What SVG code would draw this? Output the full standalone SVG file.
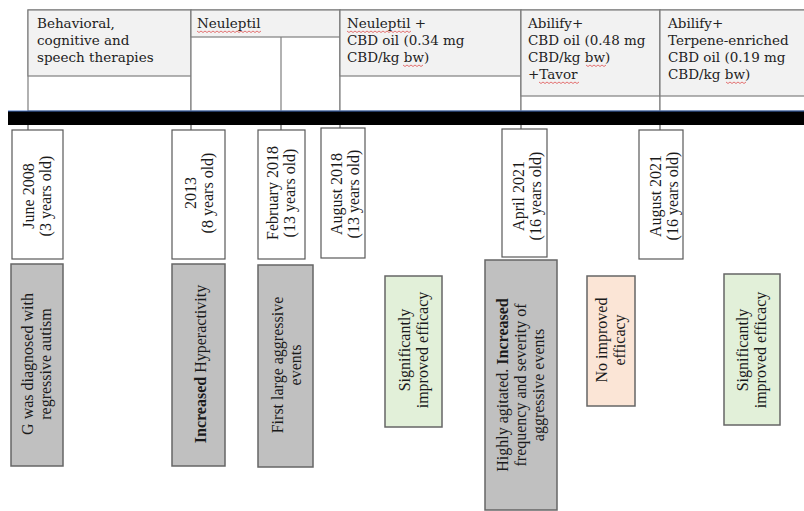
<svg xmlns="http://www.w3.org/2000/svg" width="804" height="511" viewBox="0 0 804 511">
<style>
.hdr{fill:#f2f2f2;stroke:#7f7f7f;stroke-width:1.2}
.cell{fill:#ffffff;stroke:#7f7f7f;stroke-width:1.2}
.ht{font-family:"DejaVu Serif","Liberation Serif",serif;font-size:13.5px;fill:#222222}
.date{fill:#ffffff;stroke:#595959;stroke-width:1.2}
.ev{fill:#c0c0c0;stroke:#666666;stroke-width:1.5}
.green{fill:#e2f0d9;stroke:#666666;stroke-width:1.5}
.peach{fill:#fbe5d6;stroke:#666666;stroke-width:1.5}
.rt{font-family:"Liberation Serif","Times New Roman",serif;font-size:16px;fill:#1a1a1a;text-anchor:middle}
.et{font-family:"Liberation Serif","Times New Roman",serif;font-size:16px;fill:#1a1a1a;text-anchor:middle}
.tick{stroke:#595959;stroke-width:1.2}
.sq{fill:none;stroke:#e05050;stroke-width:0.8}
</style>

<g id="table">
  <g id="col-therapies">
    <rect class="cell" x="28" y="10" width="163" height="101"/>
    <rect class="hdr" x="28" y="10" width="163" height="66"/>
    <text class="ht" x="37" y="28">Behavioral,</text>
    <text class="ht" x="37" y="45">cognitive and</text>
    <text class="ht" x="37" y="62">speech therapies</text>
  </g>
  <g id="col-neuleptil">
    <rect class="cell" x="191" y="10" width="149" height="101"/>
    <rect class="hdr" x="191" y="10" width="149" height="27"/>
    <line class="cell" x1="281" y1="37" x2="281" y2="111"/>
    <text class="ht" x="197" y="28">Neuleptil</text>
  </g>
  <g id="col-neuleptil-cbd">
    <rect class="cell" x="340" y="10" width="181" height="101"/>
    <rect class="hdr" x="340" y="10" width="181" height="66"/>
    <text class="ht" x="347" y="28">Neuleptil +</text>
    <text class="ht" x="347" y="45">CBD oil (0.34 mg</text>
    <text class="ht" x="347" y="62">CBD/kg bw)</text>
  </g>
  <g id="col-abilify-cbd">
    <rect class="cell" x="521" y="10" width="139" height="101"/>
    <rect class="hdr" x="521" y="10" width="139" height="86"/>
    <text class="ht" x="528" y="28">Abilify+</text>
    <text class="ht" x="528" y="45">CBD oil (0.48 mg</text>
    <text class="ht" x="528" y="62">CBD/kg bw)</text>
    <text class="ht" x="528" y="79">+Tavor</text>
  </g>
  <g id="col-abilify-terpene">
    <rect class="cell" x="660" y="10" width="150" height="101"/>
    <rect class="hdr" x="660" y="10" width="150" height="86"/>
    <text class="ht" x="668" y="28">Abilify+</text>
    <text class="ht" x="668" y="45">Terpene-enriched</text>
    <text class="ht" x="668" y="62">CBD oil (0.19 mg</text>
    <text class="ht" x="668" y="79">CBD/kg bw)</text>
  </g>
  <g id="spelling-marks">
    <path class="sq" d="M197 31 l2 1.5 l2 -1.5 l2 1.5 l2 -1.5 l2 1.5 l2 -1.5 l2 1.5 l2 -1.5 l2 1.5 l2 -1.5 l2 1.5 l2 -1.5 l2 1.5 l2 -1.5 l2 1.5 l2 -1.5 l2 1.5 l2 -1.5 l2 1.5 l2 -1.5 l2 1.5 l2 -1.5 l2 1.5 l2 -1.5 l2 1.5 l2 -1.5 l2 1.5 l2 -1.5 l2 1.5 l2 -1.5 l2 1.5 l2 -1.5"/>
    <path class="sq" d="M347 31 l2 1.5 l2 -1.5 l2 1.5 l2 -1.5 l2 1.5 l2 -1.5 l2 1.5 l2 -1.5 l2 1.5 l2 -1.5 l2 1.5 l2 -1.5 l2 1.5 l2 -1.5 l2 1.5 l2 -1.5 l2 1.5 l2 -1.5 l2 1.5 l2 -1.5 l2 1.5 l2 -1.5 l2 1.5 l2 -1.5 l2 1.5 l2 -1.5 l2 1.5 l2 -1.5 l2 1.5 l2 -1.5 l2 1.5 l2 -1.5"/>
    <path class="sq" d="M403 65 l2 1.5 l2 -1.5 l2 1.5 l2 -1.5 l2 1.5 l2 -1.5 l2 1.5 l2 -1.5 l2 1.5 l2 -1.5"/>
    <path class="sq" d="M586 65 l2 1.5 l2 -1.5 l2 1.5 l2 -1.5 l2 1.5 l2 -1.5 l2 1.5 l2 -1.5 l2 1.5 l2 -1.5"/>
    <path class="sq" d="M539 82 l2 1.5 l2 -1.5 l2 1.5 l2 -1.5 l2 1.5 l2 -1.5 l2 1.5 l2 -1.5 l2 1.5 l2 -1.5 l2 1.5 l2 -1.5 l2 1.5 l2 -1.5 l2 1.5 l2 -1.5 l2 1.5 l2 -1.5 l2 1.5 l2 -1.5"/>
    <path class="sq" d="M726 82 l2 1.5 l2 -1.5 l2 1.5 l2 -1.5 l2 1.5 l2 -1.5 l2 1.5 l2 -1.5 l2 1.5 l2 -1.5"/>
  </g>
</g>

<g id="timeline-bar">
  <rect x="8" y="111" width="796" height="14" fill="#000000"/>
  <line x1="8" y1="111" x2="804" y2="111" stroke="#4472c4" stroke-width="1"/>
</g>

<g id="connectors">
  <line class="tick" x1="28" y1="125" x2="28" y2="130"/>
  <line class="tick" x1="191" y1="125" x2="191" y2="130"/>
  <line class="tick" x1="281" y1="125" x2="281" y2="130"/>
  <line class="tick" x1="340" y1="125" x2="340" y2="128"/>
  <line class="tick" x1="521" y1="125" x2="521" y2="129"/>
  <line class="tick" x1="660" y1="125" x2="660" y2="130"/>
</g>

<g id="date-june2008">
  <rect class="date" x="12" y="130" width="51" height="129"/>
  <text class="rt" transform="translate(34,196) rotate(-90)"><tspan x="0" y="0">June 2008</tspan><tspan x="0" y="17">(3 years old)</tspan></text>
</g>
<g id="date-2013">
  <rect class="date" x="172" y="130" width="53" height="129"/>
  <text class="rt" transform="translate(196,193) rotate(-90)"><tspan x="0" y="0">2013</tspan><tspan x="0" y="17">(8 years old)</tspan></text>
</g>
<g id="date-feb2018">
  <rect class="date" x="258" y="130" width="47" height="129"/>
  <text class="rt" transform="translate(278,193) rotate(-90)"><tspan x="0" y="0">February 2018</tspan><tspan x="0" y="17">(13 years old)</tspan></text>
</g>
<g id="date-aug2018">
  <rect class="date" x="321" y="128" width="44" height="130"/>
  <text class="rt" transform="translate(342,194) rotate(-90)"><tspan x="0" y="0">August 2018</tspan><tspan x="0" y="17">(13 years old)</tspan></text>
</g>
<g id="date-apr2021">
  <rect class="date" x="502" y="129" width="45" height="128"/>
  <text class="rt" transform="translate(524,196) rotate(-90)"><tspan x="0" y="0">April 2021</tspan><tspan x="0" y="17">(16 years old)</tspan></text>
</g>
<g id="date-aug2021">
  <rect class="date" x="639" y="130" width="44" height="129"/>
  <text class="rt" transform="translate(661,196) rotate(-90)"><tspan x="0" y="0">August 2021</tspan><tspan x="0" y="17">(16 years old)</tspan></text>
</g>

<g id="event-diagnosed">
  <rect class="ev" x="11" y="264" width="52" height="202"/>
  <text class="et" transform="translate(33,364) rotate(-90)"><tspan x="0" y="0">G was diagnosed with</tspan><tspan x="0" y="18">regressive autism</tspan></text>
</g>
<g id="event-hyperactivity">
  <rect class="ev" x="172" y="264" width="53" height="202"/>
  <text class="et" transform="translate(206,364) rotate(-90)" font-size="16.5"><tspan font-weight="bold">Increased</tspan> Hyperactivity</text>
</g>
<g id="event-first-aggressive">
  <rect class="ev" x="258" y="265" width="55" height="202"/>
  <text class="et" transform="translate(283,365) rotate(-90)"><tspan x="0" y="0">First large aggressive</tspan><tspan x="0" y="18">events</tspan></text>
</g>
<g id="event-improved-1">
  <rect class="green" x="385" y="276" width="57" height="151"/>
  <text class="et" transform="translate(410,350) rotate(-90)"><tspan x="0" y="0">Significantly</tspan><tspan x="0" y="18">improved efficacy</tspan></text>
</g>
<g id="event-agitated">
  <rect class="ev" x="485" y="260" width="72" height="250"/>
  <text class="et" transform="translate(508,385) rotate(-90)"><tspan x="0" y="0">Highly agitated. <tspan font-weight="bold">Increased</tspan></tspan><tspan x="0" y="18">frequency and severity of</tspan><tspan x="0" y="36">aggressive events</tspan></text>
</g>
<g id="event-no-improved">
  <rect class="peach" x="587" y="276" width="48" height="130"/>
  <text class="et" transform="translate(607,340) rotate(-90)"><tspan x="0" y="0">No improved</tspan><tspan x="0" y="18">efficacy</tspan></text>
</g>
<g id="event-improved-2">
  <rect class="green" x="724" y="274" width="56" height="151"/>
  <text class="et" transform="translate(748,350) rotate(-90)"><tspan x="0" y="0">Significantly</tspan><tspan x="0" y="18">improved efficacy</tspan></text>
</g>
</svg>
